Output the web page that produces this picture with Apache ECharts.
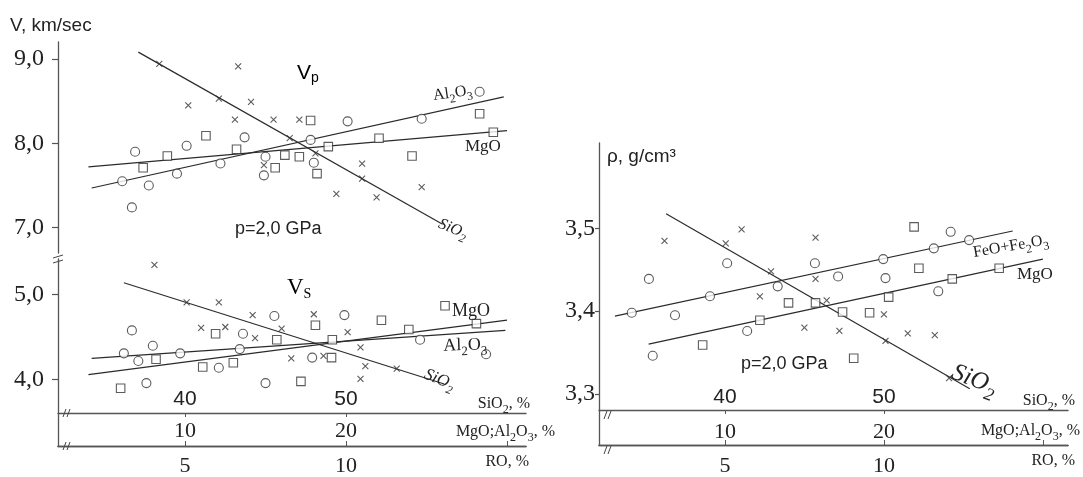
<!DOCTYPE html>
<html><head><meta charset="utf-8">
<script src="https://cdn.jsdelivr.net/npm/echarts@6/dist/echarts.min.js"></script>
<style>html,body{margin:0;padding:0;background:#fff}#c{width:1083px;height:477px}</style>
</head><body><div id="c"></div>
<script>
// ---------- DATA ----------
// Vp panel (km/s) : SiO2 %, MgO %, Al2O3 %
const vpSiO2 = [[38.4,8.94],[40.2,8.45],[42.1,8.53],[43.3,8.91],[43.1,8.28],[44.1,8.49],[45.5,8.28],[44.9,7.74],[46.5,8.06],[47.1,8.28],[48.1,7.88],[49.4,7.40],[51.0,7.76],[51.0,7.58],[51.9,7.36],[54.7,7.48]];
const vpAl2O3 = [[6.9,7.90],[6.1,7.55],[6.7,7.24],[7.75,7.50],[9.5,7.64],[10.1,7.97],[12.2,7.76],[13.7,8.07],[15.0,7.84],[14.9,7.62],[17.8,8.04],[18.0,7.77],[20.1,8.26],[24.7,8.29],[28.3,8.61]];
const vpMgO = [[7.4,7.71],[8.9,7.85],[11.3,8.09],[13.2,7.93],[15.6,7.71],[16.2,7.86],[17.1,7.84],[18.2,7.64],[17.8,8.27],[18.9,7.96],[22.05,8.06],[24.1,7.85],[28.3,8.35],[29.15,8.13]];
const vpFitSiO2 = [[37.1,9.08],[56.0,7.04]];
const vpFitAl2O3 = [[4.2,7.47],[29.8,8.55]];
const vpFitMgO = [[4.0,7.72],[30.0,8.15]];
// Vs panel (km/s)
const vsSiO2 = [[38.1,5.35],[40.1,4.91],[42.1,4.91],[41.0,4.61],[42.5,4.62],[44.2,4.76],[44.35,4.49],[46.0,4.60],[46.6,4.25],[48.0,4.77],[48.6,4.28],[50.1,4.56],[50.9,4.38],[51.2,4.16],[50.9,4.01],[53.15,4.13]];
const vsAl2O3 = [[6.7,4.58],[6.2,4.31],[7.1,4.22],[8.0,4.40],[7.6,3.96],[9.7,4.31],[12.1,4.14],[13.6,4.54],[13.4,4.36],[15.0,3.96],[15.55,4.75],[17.9,4.26],[19.9,4.76],[24.6,4.47],[28.7,4.30]];
const vsMgO = [[6.0,3.90],[8.2,4.24],[11.1,4.15],[11.9,4.54],[13.0,4.20],[15.7,4.47],[18.1,4.64],[19.15,4.47],[19.1,4.26],[17.2,3.98],[22.2,4.70],[23.9,4.59],[26.15,4.87],[28.1,4.66]];
const vsFitSiO2 = [[36.2,5.14],[56.1,3.95]];
const vsFitAl2O3 = [[4.2,4.25],[29.9,4.58]];
const vsFitMgO = [[4.0,4.06],[30.0,4.70]];
// Density panel (g/cm3) : SiO2 %, FeO+Fe2O3 (RO %), MgO %
const rhoSiO2 = [[36.2,3.485],[40.05,3.482],[41.05,3.499],[42.9,3.448],[42.2,3.418],[45.7,3.489],[45.7,3.439],[46.4,3.413],[45.0,3.380],[47.2,3.376],[50.0,3.396],[50.1,3.364],[51.5,3.373],[53.2,3.371],[54.1,3.319]];
const rhoFeO = [[2.07,3.398],[2.61,3.439],[3.43,3.395],[2.73,3.346],[4.53,3.418],[5.07,3.458],[5.70,3.376],[6.66,3.430],[7.83,3.458],[8.56,3.442],[9.98,3.463],[10.05,3.440],[11.71,3.424],[11.57,3.476],[12.1,3.496],[12.68,3.486]];
const rhoMgO = [[8.6,3.359],[12.2,3.389],[14.0,3.410],[15.7,3.410],[17.4,3.399],[19.1,3.398],[18.1,3.343],[20.3,3.417],[22.2,3.452],[21.9,3.502],[24.3,3.439],[27.25,3.452]];
const rhoFitSiO2 = [[36.3,3.518],[55.4,3.306]];
const rhoFitFeO = [[1.54,3.394],[14.05,3.497]];
const rhoFitMgO = [[5.2,3.360],[30.0,3.463]];
// Tick labels
const vpTicks = [7, 8, 9];
const vsTicks = [4, 5];
const rhoTicks = [3.3, 3.4, 3.5];
const sio2Ticks = [40, 50];
const oxideTicks = [10, 20];
const oxideTickMarks = [10, 20, 30];
const roTicks = [5, 10];

// ---------- STYLE ----------
const SERIF = '"Liberation Serif", "Times New Roman", serif';
const SANS = '"Liberation Sans", Arial, sans-serif';
const INK = '#222';
const AX = '#555';

function comma(v, d) { return v.toFixed(d).replace('.', ','); }
function rich(fs, italic) {
  const st = italic ? 'italic' : 'normal';
  const sf = Math.round(fs * 0.72);
  return {
    n: {fontFamily: SERIF, fontSize: fs, fontStyle: st, color: INK, verticalAlign: 'top', lineHeight: fs + 1},
    s: {fontFamily: SERIF, fontSize: sf, fontStyle: st, color: INK, verticalAlign: 'top', lineHeight: sf, padding: [Math.round(fs * 0.5), 0, 0, 0]}
  };
}

// panel x ranges (three aligned scales: SiO2, MgO/Al2O3 = SiO2-30, RO = (SiO2-30)/2)
const LS = [32.11, 61.18];
const RS = [32.08, 61.58];
const ox = r => [r[0] - 30, r[1] - 30];
const ro = r => [(r[0] - 30) / 2, (r[1] - 30) / 2];

function yAx(gi, min, max, ticks, dec, margin, tl) {
  return {type: 'value', gridIndex: gi, min, max, splitLine: {show: false},
    axisLine: {show: true, lineStyle: {color: AX, width: 1.3}},
    axisTick: {show: true, customValues: ticks, length: tl, lineStyle: {color: AX, width: 1.2}},
    axisLabel: {customValues: ticks, formatter: v => comma(v, dec), fontFamily: SERIF, fontSize: 24, color: INK, margin}};
}
function hiddenX(gi, r) {
  return {type: 'value', gridIndex: gi, min: r[0], max: r[1], show: false};
}
function xAx(gi, r, o) {
  return Object.assign({type: 'value', gridIndex: gi, min: r[0], max: r[1], position: 'bottom', splitLine: {show: false},
    axisLine: {show: true, onZero: false, lineStyle: {color: AX, width: 1.4}}}, o);
}
function nameStyle(fs, align, va, pad) {
  return {rich: rich(fs, false), align, verticalAlign: va, padding: pad};
}
const NSIO2 = '{n|SiO}{s|2}{n|, %}';
const NOX = '{n|MgO;Al}{s|2}{n|O}{s|3}{n|, %}';
const NRO = '{n|RO, %}';

const xAxes = [
  hiddenX(0, LS),            // 0 Vp SiO2
  hiddenX(0, ox(LS)),        // 1 Vp oxides
  xAx(1, LS, {offset: -33, name: NSIO2, nameLocation: 'end', nameGap: 4, nameTextStyle: nameStyle(16, 'right', 'bottom', [0, 0, 0, 0]),
    axisTick: {show: true, customValues: sio2Ticks, length: 4, lineStyle: {color: AX}},
    axisLabel: {inside: true, customValues: sio2Ticks, fontFamily: SANS, fontSize: 21, color: INK, margin: 3}}), // 2
  xAx(1, ox(LS), {offset: 0, name: NOX, nameLocation: 'end', nameGap: 29, nameTextStyle: nameStyle(16, 'right', 'bottom', [0, 0, 5, 0]),
    axisTick: {show: true, inside: true, customValues: oxideTickMarks, length: 5, lineStyle: {color: AX}},
    axisLabel: {inside: true, customValues: oxideTicks, fontFamily: SERIF, fontSize: 22, color: INK, margin: 4}}), // 3
  xAx(1, ro(LS), {offset: 0, name: NRO, nameLocation: 'end', nameGap: 3, nameTextStyle: nameStyle(16, 'right', 'top', [8, 0, 0, 0]),
    axisTick: {show: false},
    axisLabel: {customValues: roTicks, fontFamily: SERIF, fontSize: 22, color: INK, margin: 9}}), // 4
  xAx(2, RS, {offset: -35, name: NSIO2, nameLocation: 'end', nameGap: 7, nameTextStyle: nameStyle(16, 'right', 'bottom', [0, 0, 0, 0]),
    axisTick: {show: true, customValues: sio2Ticks, length: 4, lineStyle: {color: AX}},
    axisLabel: {inside: true, customValues: sio2Ticks, fontFamily: SANS, fontSize: 21, color: INK, margin: 2}}), // 5
  xAx(2, ox(RS), {offset: 0, name: NOX, nameLocation: 'end', nameGap: 12, nameTextStyle: nameStyle(16, 'right', 'bottom', [0, 0, 5, 0]),
    axisTick: {show: true, inside: true, customValues: oxideTickMarks, length: 5, lineStyle: {color: AX}},
    axisLabel: {inside: true, customValues: oxideTicks, fontFamily: SERIF, fontSize: 22, color: INK, margin: 2}}), // 6
  xAx(2, ro(RS), {offset: 0, name: NRO, nameLocation: 'end', nameGap: 7, nameTextStyle: nameStyle(16, 'right', 'top', [8, 0, 0, 0]),
    axisTick: {show: false},
    axisLabel: {customValues: roTicks, fontFamily: SERIF, fontSize: 22, color: INK, margin: 10}}) // 7
];
const yAxes = [
  yAx(0, 6.7, 9.2, vpTicks, 1, 14, 6),
  yAx(1, 3.22, 5.42, vsTicks, 1, 14, 6),
  yAx(2, 3.238, 3.6035, rhoTicks, 1, 4, 4)
];

function fit(xi, yi, data) {
  return {type: 'line', xAxisIndex: xi, yAxisIndex: yi, data, symbol: 'none', silent: true, z: 2,
    lineStyle: {color: '#2b2b2b', width: 1.2}, emphasis: {disabled: true}};
}
const CROSS = 'path://M0,0L10,10M10,0L0,10';
function pts(xi, yi, data, kind) {
  const base = {type: 'scatter', xAxisIndex: xi, yAxisIndex: yi, data, silent: true, z: 3, emphasis: {disabled: true}};
  if (kind === 'x') return Object.assign(base, {symbol: CROSS, symbolSize: 6, itemStyle: {color: 'rgba(0,0,0,0)', borderColor: '#333', borderWidth: 1.1}});
  if (kind === 'o') return Object.assign(base, {symbol: 'circle', symbolSize: 9, itemStyle: {color: '#fff', borderColor: '#333', borderWidth: 1.1}});
  return Object.assign(base, {symbol: 'rect', symbolSize: 8.5, itemStyle: {color: '#fff', borderColor: '#333', borderWidth: 1.1}});
}

const series = [
  fit(0, 0, vpFitSiO2), fit(1, 0, vpFitAl2O3), fit(1, 0, vpFitMgO),
  pts(0, 0, vpSiO2, 'x'), pts(1, 0, vpAl2O3, 'o'), pts(1, 0, vpMgO, 's'),
  fit(2, 1, vsFitSiO2), fit(3, 1, vsFitAl2O3), fit(3, 1, vsFitMgO),
  pts(2, 1, vsSiO2, 'x'), pts(3, 1, vsAl2O3, 'o'), pts(3, 1, vsMgO, 's'),
  fit(5, 2, rhoFitSiO2), fit(7, 2, rhoFitFeO), fit(6, 2, rhoFitMgO),
  pts(5, 2, rhoSiO2, 'x'), pts(7, 2, rhoFeO, 'o'), pts(6, 2, rhoMgO, 's')
];

function txt(x, y, text, font, rot) {
  return {type: 'text', x, y, rotation: rot || 0, silent: true, z: 10,
    style: {text, font, fill: INK, textVerticalAlign: 'middle', verticalAlign: 'middle'}};
}
function rtxt(x, y, text, fs, italic, rot) {
  return {type: 'text', x, y, rotation: rot || 0, silent: true, z: 10,
    style: {text, rich: rich(fs, italic), fill: INK}};
}
function brk(x, y) {
  const s = {stroke: '#444', lineWidth: 1};
  return [
    {type: 'line', silent: true, z: 10, shape: {x1: x - 1, y1: y + 4, x2: x + 2, y2: y - 4}, style: s},
    {type: 'line', silent: true, z: 10, shape: {x1: x + 3, y1: y + 4, x2: x + 6, y2: y - 4}, style: s}
  ];
}

const graphic = [
  txt(10, 26, 'V, km/sec', '19px ' + SANS),
  {type: 'text', x: 297, y: 63, silent: true, z: 10, style: {text: '{v|V}{p|p}', rich: {
    v: {fontFamily: SANS, fontSize: 21, color: INK, verticalAlign: 'top', lineHeight: 22},
    p: {fontFamily: SANS, fontSize: 14, color: INK, verticalAlign: 'top', lineHeight: 14, padding: [8, 0, 0, 0]}}}},
  txt(235, 229, 'p=2,0 GPa', '18px ' + SANS),
  rtxt(432, 88, '{n|Al}{s|2}{n|O}{s|3}', 16, false, 0.14),
  rtxt(465, 138, '{n|MgO}', 17, false),
  rtxt(442, 216, '{n|SiO}{s|2}', 16, true, -0.38),
  {type: 'text', x: 287, y: 276, silent: true, z: 10, style: {text: '{v|V}{s|S}', rich: {
    v: {fontFamily: SERIF, fontSize: 23, color: INK, verticalAlign: 'top', lineHeight: 24},
    s: {fontFamily: SERIF, fontSize: 14, color: INK, verticalAlign: 'top', lineHeight: 14, padding: [11, 0, 0, 0]}}}},
  rtxt(452, 302, '{n|MgO}', 18, false),
  rtxt(443, 337, '{n|Al}{s|2}{n|O}{s|3}', 18, false, 0.03),
  rtxt(428, 366, '{n|SiO}{s|2}', 17, true, -0.38),
  {type: 'text', x: 607, y: 147, silent: true, z: 10, style: {text: 'ρ, g/cm³', font: '19px ' + SANS, fill: INK}},
  rtxt(972, 245, '{n|FeO+Fe}{s|2}{n|O}{s|3}', 16, false, 0.17),
  rtxt(1017, 266, '{n|MgO}', 17, false),
  rtxt(957, 360, '{n|SiO}{s|2}', 25, true, -0.36),
  txt(741, 364, 'p=2,0 GPa', '18px ' + SANS)
].concat(brk(64, 413), brk(64, 446), brk(605, 415), brk(605, 450), [
  {type: 'line', silent: true, z: 10, shape: {x1: 53, y1: 258, x2: 63, y2: 255}, style: {stroke: '#444', lineWidth: 1}},
  {type: 'line', silent: true, z: 10, shape: {x1: 53, y1: 263, x2: 63, y2: 260}, style: {stroke: '#444', lineWidth: 1}}
]);

const option = {
  backgroundColor: '#fff',
  animation: false,
  grid: [
    {left: 58, top: 42, width: 468, height: 211},
    {left: 58, top: 259, width: 468, height: 187},
    {left: 599, top: 143, width: 469, height: 307}
  ],
  xAxis: xAxes,
  yAxis: yAxes,
  series,
  graphic
};
const chart = echarts.init(document.getElementById('c'));
chart.setOption(option);
</script>
</body></html>
